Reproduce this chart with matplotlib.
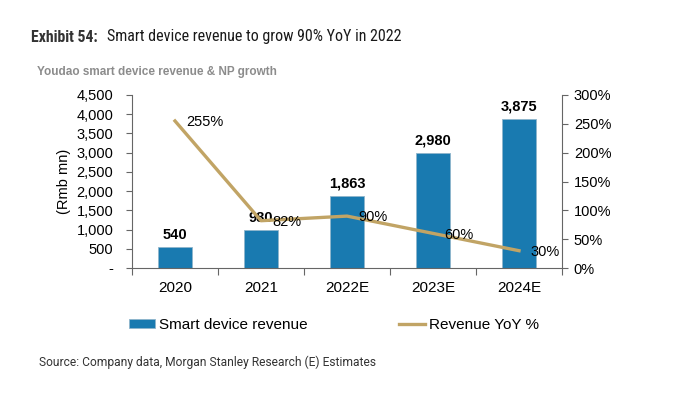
import matplotlib
matplotlib.use("Agg")
import matplotlib.pyplot as plt
from matplotlib import font_manager
import numpy as np

categories = ["2020", "2021", "2022E", "2023E", "2024E"]
revenue = [540, 980, 1863, 2980, 3875]
yoy = [255, 82, 90, 60, 30]
left_ticks = [0, 500, 1000, 1500, 2000, 2500, 3000, 3500, 4000, 4500]
left_labels = ["-", "500", "1,000", "1,500", "2,000", "2,500", "3,000", "3,500", "4,000", "4,500"]
right_ticks = [0, 50, 100, 150, 200, 250, 300]
right_labels = ["0%", "50%", "100%", "150%", "200%", "250%", "300%"]

installed = {f.name for f in font_manager.fontManager.ttflist}
cond = next((n for n in ["Roboto Condensed", "Fira Sans Condensed", "Liberation Sans Narrow"]
             if n in installed), "Roboto")

BAR = "#197AB0"
GOLD = "#C1A465"
AX = "#666666"
W, H = 675, 393

plt.rcParams["font.family"] = ["Liberation Sans", "DejaVu Sans"]
fig = plt.figure(figsize=(W / 100, H / 100), dpi=100)
ax = fig.add_axes([132 / W, 1 - 268 / H, (562 - 132) / W, (268 - 95) / H])
ax2 = ax.twinx()

x = np.arange(len(categories))
bars = ax.bar(x, revenue, width=0.4, color=BAR, edgecolor="#8FB5CC", linewidth=0.6,
              label="Smart device revenue", zorder=2)
ax.set_xlim(-0.5, len(categories) - 0.5)
ax.set_ylim(0, 4500)
ax.set_yticks(left_ticks)
ax.set_yticklabels(left_labels)
ax.set_xticks(np.arange(-0.5, len(categories), 1.0))
ax.set_xticklabels([])
ax.set_xticks(x, minor=True)
ax.set_xticklabels(categories, minor=True)
ax.tick_params(axis="x", which="minor", length=0, pad=9, labelsize=11)
ax.tick_params(axis="x", which="major", length=5, color=AX, direction="out")
ax.tick_params(axis="y", length=4.5, color=AX, labelsize=10.5, pad=9)
for s in ["top", "right"]:
    ax.spines[s].set_visible(False)
for s in ["left", "bottom"]:
    ax.spines[s].set_color(AX)
ax.set_ylabel("(Rmb mn)", fontsize=10.5, labelpad=4)

for xi, v in zip(x, revenue):
    ax.annotate(f"{v:,}", (xi, v), xytext=(0, 9), textcoords="offset points",
                ha="center", va="center", fontsize=10.5, fontweight="bold")

line, = ax2.plot(x, yoy, color=GOLD, linewidth=2.4, label="Revenue YoY %", zorder=3)
ax2.set_ylim(0, 300)
ax2.set_yticks(right_ticks)
ax2.set_yticklabels(right_labels)
ax2.tick_params(axis="y", length=4.5, color=AX, labelsize=10.5, pad=4)
for s in ["top", "left", "bottom"]:
    ax2.spines[s].set_visible(False)
ax2.spines["right"].set_color(AX)
for xi, v in zip(x, yoy):
    ax2.annotate(f"{v}%", (xi, v), xytext=(8, -1), textcoords="offset points",
                 ha="left", va="center", fontsize=10.5)

fig.legend(handles=[bars, line], loc="center", bbox_to_anchor=(334 / W, 1 - 325 / H),
           ncol=2, frameon=False, fontsize=11, handlelength=1.7, handleheight=0.5,
           handletextpad=0.25, columnspacing=6.0)

renderer = fig.canvas.get_renderer()


def fit_text(x0, x1, yc, s, size, **kw):
    t = fig.text(x0 / W, 1 - yc / H, s, fontsize=size, va="center", **kw)
    w = t.get_window_extent(renderer).width
    t.set_fontsize(size * (x1 - x0) / w)
    return t


fit_text(31, 98, 37, "Exhibit 54:", 13, fontweight="bold", family=[cond, "DejaVu Sans"],
         color="#333333")
fit_text(107, 402, 37, "Smart device revenue to grow 90% YoY in 2022", 13,
         family=[cond, "DejaVu Sans"], color="#1a1a1a")
fit_text(37, 277, 72, "Youdao smart device revenue & NP growth", 9, fontweight="bold",
         color="#8C8C8C")
fit_text(39, 375, 362, "Source: Company data, Morgan Stanley Research (E) Estimates", 8.6,
         family="Roboto", color="#333333")

fig.savefig("out.png", dpi=100)
